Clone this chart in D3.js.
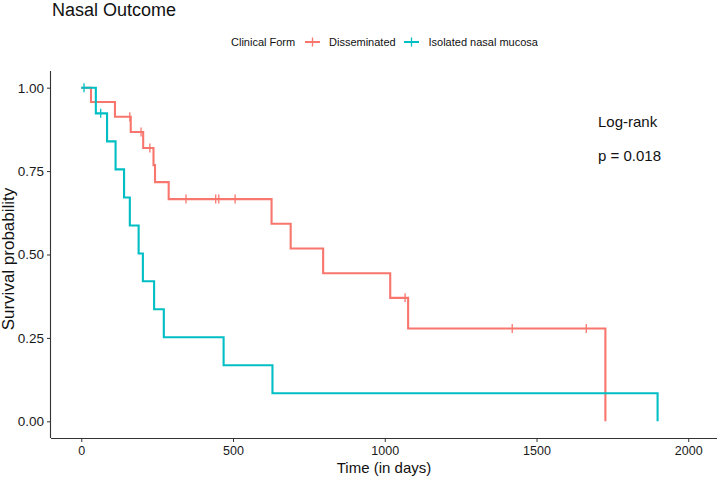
<!DOCTYPE html>
<html>
<head>
<meta charset="utf-8">
<script src="https://cdn.jsdelivr.net/npm/d3@7"></script>
<style>
  html, body { margin: 0; padding: 0; background: #fff; }
  svg { display: block; font-family: "Liberation Sans", Arial, Helvetica, sans-serif; }
</style>
</head>
<body>
<svg id="chart" width="720" height="477"></svg>
<script>
// ---- Data ----
const groups = ["Disseminated", "Isolated nasal mucosa"];
const groupColors = ["#F8766D", "#00BFC4"];

const dissTimes = [0, 32, 111, 163, 204, 238, 243, 288, 627, 690, 797, 1018, 1077, 1727];
const dissSurv  = [1, 0.957, 0.913, 0.867, 0.819, 0.768, 0.717, 0.666, 0.592, 0.518, 0.444, 0.370, 0.278, 0];
const dissCensor = [160, 197, 226, 345, 443, 453, 507, 1067, 1420, 1664];

const isoTimes = [0, 48, 85, 113, 141, 160, 189, 203, 240, 272, 469, 630, 1899];
const isoSurv  = [1, 0.923, 0.839, 0.755, 0.671, 0.587, 0.503, 0.420, 0.336, 0.252, 0.168, 0.084, 0];
const isoCensor = [9, 64];

const xTicks = [0, 500, 1000, 1500, 2000];
const yTicks = [0, 0.25, 0.5, 0.75, 1];

const titleText = "Nasal Outcome";
const legendTitle = "Clinical Form";
const xLabel = "Time (in days)";
const yLabel = "Survival probability";
const statLines = ["Log-rank", "p = 0.018"];

// ---- Layout ----
const svg = d3.select("#chart");
const pLeft = 51, pRight = 717, pTop = 71, pBottom = 438;

const x = d3.scaleLinear().domain([-99.75, 2094.75]).range([pLeft, pRight]);
const y = d3.scaleLinear().domain([-0.05, 1.05]).range([pBottom, pTop]);

const series = [
  { name: groups[0], color: groupColors[0], times: dissTimes, surv: dissSurv, censor: dissCensor },
  { name: groups[1], color: groupColors[1], times: isoTimes, surv: isoSurv, censor: isoCensor }
];

function stepValue(s, t) {
  let v = s.surv[0];
  for (let i = 0; i < s.times.length; i++) { if (s.times[i] <= t) v = s.surv[i]; }
  return v;
}

const line = d3.line()
  .x(d => x(d[0]))
  .y(d => y(d[1]))
  .curve(d3.curveStepAfter);

const plot = svg.append("g");
series.forEach(s => {
  const pts = s.times.map((t, i) => [t, s.surv[i]]);
  plot.append("path")
    .attr("d", line(pts))
    .attr("fill", "none")
    .attr("stroke", s.color)
    .attr("stroke-width", 2.1);
  plot.selectAll(null)
    .data(s.censor)
    .enter().append("line")
    .attr("x1", d => x(d)).attr("x2", d => x(d))
    .attr("y1", d => y(stepValue(s, d)) - 4.5)
    .attr("y2", d => y(stepValue(s, d)) + 4.5)
    .attr("stroke", s.color)
    .attr("stroke-width", 1.3);
});

// ---- Axes ----
const axisColor = "#333333";
const xAxis = svg.append("g")
  .attr("transform", `translate(0,${pBottom})`)
  .call(d3.axisBottom(x).tickValues(xTicks).tickSize(4).tickPadding(4).tickFormat(d3.format("d")));
xAxis.select(".domain").attr("d", `M${pLeft},0.5H${pRight}`).attr("stroke", axisColor).attr("stroke-width", 1.1);
xAxis.selectAll(".tick line").attr("stroke", axisColor);
xAxis.selectAll(".tick text").attr("fill", "#1a1a1a").style("font-size", "12.5px").style("font-family", "'Liberation Sans', Arial, sans-serif");

const yAxis = svg.append("g")
  .attr("transform", `translate(${pLeft},0)`)
  .call(d3.axisLeft(y).tickValues(yTicks).tickSize(4).tickPadding(3).tickFormat(d3.format(".2f")));
yAxis.select(".domain").attr("d", `M-0.5,${pTop}V${pBottom}`).attr("stroke", axisColor).attr("stroke-width", 1.1);
yAxis.selectAll(".tick line").attr("stroke", axisColor);
yAxis.selectAll(".tick text").attr("fill", "#1a1a1a").style("font-size", "13.5px").style("font-family", "'Liberation Sans', Arial, sans-serif");

// axis titles
svg.append("text")
  .attr("x", (pLeft + pRight) / 2).attr("y", 473)
  .attr("text-anchor", "middle")
  .style("font-size", "15px").attr("fill", "#111")
  .text(xLabel);

svg.append("text")
  .attr("transform", `translate(13.5,259) rotate(-90)`)
  .attr("text-anchor", "middle")
  .style("font-size", "17px").attr("fill", "#111")
  .text(yLabel);

// title
svg.append("text")
  .attr("x", 52).attr("y", 16)
  .style("font-size", "18px").attr("fill", "#111")
  .text(titleText);

// legend
const legY = 42;
svg.append("text").attr("x", 231).attr("y", legY + 4)
  .style("font-size", "11px").attr("fill", "#111").text(legendTitle);
const keyX = [312.5, 411.5];
const labX = [329, 428.5];
series.forEach((s, i) => {
  const g = svg.append("g");
  g.append("line").attr("x1", keyX[i] - 7.5).attr("x2", keyX[i] + 7.5)
    .attr("y1", legY).attr("y2", legY).attr("stroke", s.color).attr("stroke-width", 2);
  g.append("line").attr("x1", keyX[i]).attr("x2", keyX[i])
    .attr("y1", legY - 4.5).attr("y2", legY + 4.5).attr("stroke", s.color).attr("stroke-width", 1.3);
  g.append("text").attr("x", labX[i]).attr("y", legY + 4)
    .style("font-size", "11px").attr("fill", "#111").text(s.name);
});

// stats annotation
svg.append("text").attr("x", 598).attr("y", 127)
  .style("font-size", "15px").attr("fill", "#111").text(statLines[0]);
svg.append("text").attr("x", 598).attr("y", 161)
  .style("font-size", "15px").attr("fill", "#111").text(statLines[1]);
</script>
</body>
</html>
